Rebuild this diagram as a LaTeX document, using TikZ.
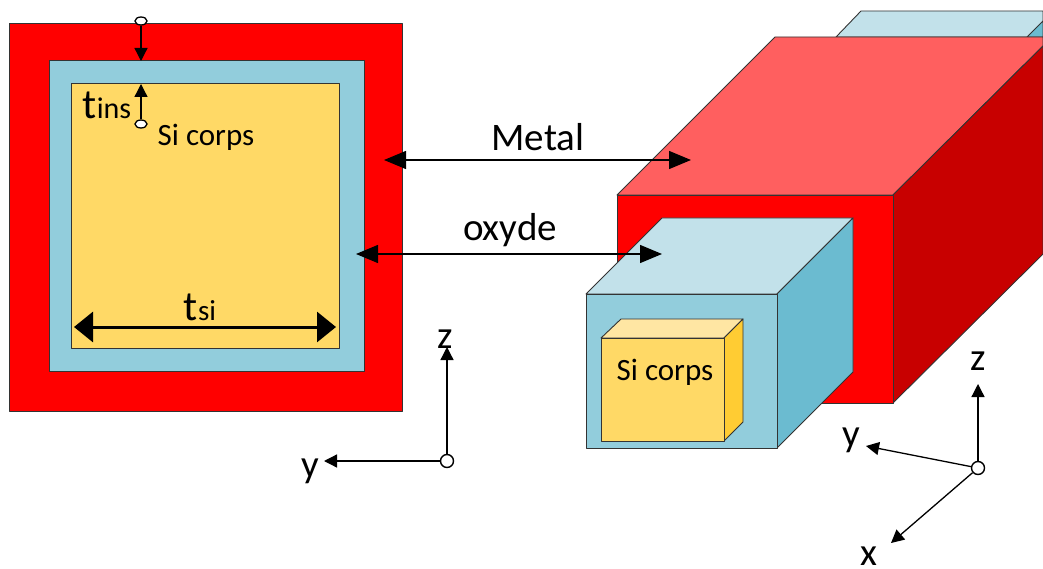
\documentclass[tikz,border=0pt]{standalone}
\usepackage{fontspec}
\setmainfont{Carlito}
\usetikzlibrary{arrows.meta,shapes.geometric}
\definecolor{metalfront}{HTML}{FF0000}
\definecolor{metaltop}{HTML}{FF5F5F}
\definecolor{metalside}{HTML}{C80000}
\definecolor{oxfront}{HTML}{92CDDC}
\definecolor{oxtop}{HTML}{C2E1EA}
\definecolor{oxside}{HTML}{6BBBD0}
\definecolor{sifront}{HTML}{FFD966}
\definecolor{sitop}{HTML}{FFE6A3}
\definecolor{siside}{HTML}{FFCC33}
\begin{document}
\begin{tikzpicture}[x=1pt,y=-1pt,
    face/.style={draw=black!80,line width=0.9pt,line join=round},
    hole/.style={draw=black,fill=white,ellipse,inner sep=0pt,line width=1.3pt,minimum width=12pt,minimum height=8pt},
    origin/.style={draw=black,fill=white,circle,inner sep=0pt,line width=1.4pt,minimum size=13pt},
    lab/.style={inner sep=0pt,font=\fontsize{39}{39}\selectfont},
    smalllab/.style={inner sep=0pt,font=\fontsize{31}{31}\selectfont},
    thinarrow/.style={-{Triangle[length=13pt,width=13pt]},line width=1.3pt},
    bothways/.style={{Triangle[length=22pt,width=18pt]}-{Triangle[length=22pt,width=18pt]},line width=1.3pt},
    widearrow/.style={{Triangle[length=19pt,width=30pt]}-{Triangle[length=19pt,width=30pt]},line width=3pt}]
    \useasboundingbox (0,0) rectangle (1043,569);
    \draw [face,fill=metalfront] (9.5,23.5) rectangle (402,411);
    \draw [face,fill=oxfront] (49.7,60.7) rectangle (364,371);
    \draw [face,fill=sifront] (71,83.5) rectangle (339.5,348);
    \draw [face,fill=oxtop] (836,37) -- (861,11) -- (1043,11) -- (1043,37) -- cycle;
    \draw [face,fill=oxside] (1027,37) -- (1043,21) -- (1043,37) -- cycle;
    \draw [face,fill=metaltop] (617,195) -- (775,37) -- (1043,37) -- (1043,46) -- (893,195) -- cycle;
    \draw [face,fill=metalside] (893,195) -- (1043,46) -- (1043,254) -- (893,403) -- cycle;
    \draw [face,fill=metalfront] (617,195) rectangle (893,403);
    \draw [face,fill=oxtop] (586,294) -- (662,218) -- (853,218) -- (777,294) -- cycle;
    \draw [face,fill=oxside] (777,294) -- (853,218) -- (853,372) -- (777,448) -- cycle;
    \draw [face,fill=oxfront] (586,294) rectangle (777,448);
    \draw [face,fill=sitop] (601,338) -- (621,319) -- (743,319) -- (724,338) -- cycle;
    \draw [face,fill=siside] (724,338) -- (743,319) -- (743,422) -- (724,441) -- cycle;
    \draw [face,fill=sifront] (601,338) rectangle (724,441);
    \draw (538,137) node[lab] (metal) {Metal};
    \draw (510,230) node[lab] (oxyde) {oxyde};
    \draw (206,137) node[smalllab] (sileft) {Si corps};
    \draw (665,372) node[smalllab] (siright) {Si corps};
    \draw (107,105) node[inner sep=0pt] (tins) {\fontsize{42}{42}\selectfont t\fontsize{30}{30}\selectfont ins};
    \draw (200,307) node[inner sep=0pt] (tsi) {\fontsize{42}{42}\selectfont t\fontsize{29}{29}\selectfont si};
    \draw (141,21) node[hole] (holetop) {};
    \draw (141,124) node[hole] (holelow) {};
    \coordinate (oxtopedge) at (141,61);
    \coordinate (sitopedge) at (141,84);
    \draw [thinarrow] (holetop) -- (oxtopedge);
    \draw [thinarrow] (holelow) -- (sitopedge);
    \coordinate (sileftend) at (74,327);
    \coordinate (sirightend) at (336,327);
    \draw [widearrow] (sileftend) -- (sirightend);
    \coordinate (metalleft) at (384,160);
    \coordinate (metalright) at (691,160);
    \draw [bothways] (metalleft) -- (metalright);
    \coordinate (oxleft) at (356,254);
    \coordinate (oxright) at (662,254);
    \draw [bothways] (oxleft) -- (oxright);
    \draw (445.5,339.5) node[lab] (zleft) {z};
    \draw (310,471) node[lab] (yleft) {y};
    \draw (447,461) node[origin] (oleft) {};
    \coordinate (zlefttip) at (447,347);
    \coordinate (ylefttip) at (324,461);
    \draw [thinarrow] (oleft) -- (zlefttip);
    \draw [thinarrow] (oleft) -- (ylefttip);
    \draw (978,361) node[lab] (zright) {z};
    \draw (851,440) node[lab] (yright) {y};
    \draw (869,556) node[lab] (xright) {x};
    \draw (978,468) node[origin] (oright) {};
    \coordinate (zrighttip) at (978,384);
    \coordinate (yrighttip) at (866,446);
    \coordinate (xrighttip) at (891,543);
    \draw [thinarrow] (oright) -- (zrighttip);
    \draw [thinarrow] (oright) -- (yrighttip);
    \draw [thinarrow] (oright) -- (xrighttip);
\end{tikzpicture}
\end{document}
